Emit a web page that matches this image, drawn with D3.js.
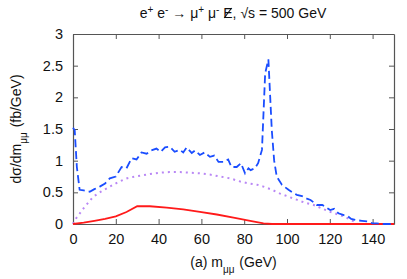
<!DOCTYPE html>
<html lang="en">
<head>
<meta charset="UTF-8">
<title>mumu</title>
<script src="https://cdn.jsdelivr.net/npm/d3@7"></script>
<style>
  body { margin: 0; background: #fff; }
  svg { display: block; font-family: "Liberation Sans", Arial, sans-serif; }
</style>
</head>
<body>
<svg id="chart" width="407" height="279"></svg>
<script>
// values (m in GeV, dsigma/dm in fb/GeV)
var blueM = [0, 0.8, 1.8, 3.1, 5, 7.8, 10, 12.5, 15, 17.2, 20, 22.7, 25, 27.4, 29.7, 32, 34.4, 36.5, 39, 41, 43, 45.3, 47.5, 50, 51.5, 53.1, 55.5, 57, 59.3, 61.5, 64, 66, 68, 70.3, 72.5, 74, 76.5, 78.5, 80.4, 82, 83, 85, 86.5, 88.3, 89.8, 91.3, 92.9, 94, 95.2, 97.6, 100.7, 102.5, 104.6, 107, 109.3, 111, 114, 116.5, 118, 120.2, 122, 124, 126.6, 128.5, 130, 132.7, 135, 137.5, 140, 142, 145, 150];
var blueY = [1.52, 1.48, 0.9, 0.54, 0.53, 0.51, 0.55, 0.59, 0.64, 0.72, 0.75, 0.9, 0.88, 1.04, 1.02, 1.13, 1.11, 1.16, 1.19, 1.14, 1.21, 1.22, 1.14, 1.17, 1.13, 1.21, 1.12, 1.16, 1.09, 1.13, 1.06, 1.08, 0.98, 0.98, 1.02, 0.9, 0.9, 0.96, 0.8, 0.88, 0.85, 0.88, 0.96, 1.17, 2.38, 2.6, 1.48, 1.0, 0.75, 0.62, 0.54, 0.5, 0.46, 0.44, 0.4, 0.38, 0.3, 0.3, 0.27, 0.22, 0.24, 0.17, 0.14, 0.12, 0.08, 0.06, 0.05, 0.04, 0.01, 0.01, 0, 0];

var purpleM = [0, 0.8, 5, 9.4, 13, 17.2, 21, 25, 29, 32.8, 36, 40.6, 45, 50, 55, 59.3, 64, 68.7, 73.5, 78.2, 82, 86, 89, 93, 96.8, 100, 104.8, 108, 112.5, 116, 120.4, 123, 126.6, 129, 131.3, 133, 150];
var purpleY = [0.0, 0.06, 0.25, 0.43, 0.51, 0.59, 0.66, 0.72, 0.75, 0.77, 0.79, 0.81, 0.82, 0.82, 0.81, 0.8, 0.78, 0.75, 0.72, 0.67, 0.64, 0.62, 0.59, 0.54, 0.48, 0.44, 0.38, 0.34, 0.3, 0.25, 0.19, 0.16, 0.12, 0.08, 0.04, 0.0, 0.0];

var redM = [0, 5, 10, 15, 20, 25, 30, 35.9, 43.8, 51.5, 59.3, 67.2, 75, 82.8, 89, 93, 150];
var redY = [0, 0.02, 0.05, 0.08, 0.12, 0.19, 0.28, 0.28, 0.26, 0.23, 0.19, 0.15, 0.1, 0.05, 0.01, 0, 0];

var xTicks = [0, 20, 40, 60, 80, 100, 120, 140];
var yTicks = [0, 0.5, 1, 1.5, 2, 2.5, 3];

var margin = { top: 34, bottom: 55, left: 73, right: 13 };
var width = 407, height = 279;
var chartW = width - margin.left - margin.right;
var chartH = height - margin.top - margin.bottom;

var svg = d3.select("#chart");

var xScale = d3.scaleLinear().domain([0, 150]).range([0, chartW]);
var yScale = d3.scaleLinear().domain([0, 3]).range([chartH, 0]);

var plot = svg.append("g")
  .attr("transform", "translate(" + margin.left + "," + margin.top + ")");

/* axes, ticks inside and mirrored */
var axisColor = "#555";
plot.append("g").attr("class", "xb")
  .attr("transform", "translate(0," + chartH + ")")
  .call(d3.axisBottom(xScale).tickValues(xTicks).tickSizeInner(-5).tickSizeOuter(0).tickPadding(10).tickFormat(d3.format("d")));
plot.append("g").attr("class", "xt")
  .call(d3.axisTop(xScale).tickValues(xTicks).tickSizeInner(-5).tickSizeOuter(0).tickFormat(""));
plot.append("g").attr("class", "yl")
  .call(d3.axisLeft(yScale).tickValues(yTicks).tickSizeInner(-5).tickSizeOuter(0).tickPadding(10).tickFormat(function(d) { return d; }));
plot.append("g").attr("class", "yr")
  .attr("transform", "translate(" + chartW + ",0)")
  .call(d3.axisRight(yScale).tickValues(yTicks).tickSizeInner(-5).tickSizeOuter(0).tickFormat(""));

plot.selectAll(".domain").attr("stroke", axisColor).attr("stroke-width", 1.2);
plot.selectAll(".tick line").attr("stroke", axisColor);
plot.selectAll(".tick text").attr("fill", "#111").style("font-size", "14.5px");

/* curves */
function zip(xs, ys) { return xs.map(function(x, i) { return [x, ys[i]]; }); }
var line = d3.line()
  .x(function(d) { return xScale(d[0]); })
  .y(function(d) { return yScale(d[1]); });

plot.append("path").datum(zip(purpleM, purpleY))
  .attr("d", line).attr("fill", "none")
  .attr("stroke", "#b987f5").attr("stroke-width", 2)
  .attr("stroke-dasharray", "2,4");

plot.append("path").datum(zip(redM, redY))
  .attr("d", line).attr("fill", "none")
  .attr("stroke", "#ff1a1a").attr("stroke-width", 1.8);

plot.append("path").datum(zip(blueM, blueY))
  .attr("d", line).attr("fill", "none")
  .attr("stroke", "#1a4dff").attr("stroke-width", 1.8)
  .attr("stroke-dasharray", "8,4");

/* texts */
var title = svg.append("text")
  .attr("x", 233).attr("y", 18)
  .attr("text-anchor", "middle")
  .style("font-size", "14px").attr("fill", "#111");
title.append("tspan").text("e");
title.append("tspan").attr("baseline-shift", "super").style("font-size", "10px").text("+");
title.append("tspan").text(" e");
title.append("tspan").attr("baseline-shift", "super").style("font-size", "10px").text("-");
title.append("tspan").text(" \u2192 \u03bc");
title.append("tspan").attr("baseline-shift", "super").style("font-size", "10px").text("+");
title.append("tspan").text(" \u03bc");
title.append("tspan").attr("baseline-shift", "super").style("font-size", "10px").text("-");
title.append("tspan").text(" E, \u221as = 500 GeV");

// slash across the missing-energy E
var full = title.node().textContent;
var ext = title.node().getExtentOfChar(full.indexOf("E"));
svg.append("line")
  .attr("x1", ext.x + 1).attr("y1", ext.y + ext.height - 3)
  .attr("x2", ext.x + ext.width - 1).attr("y2", ext.y + 3)
  .attr("stroke", "#111").attr("stroke-width", 1.1);

var xl = svg.append("text")
  .attr("x", margin.left + chartW / 2).attr("y", 267)
  .attr("text-anchor", "middle")
  .style("font-size", "14px").attr("fill", "#111");
xl.append("tspan").text("(a) m");
xl.append("tspan").attr("baseline-shift", "sub").style("font-size", "10px").text("\u03bc\u03bc");
xl.append("tspan").attr("dx", 1).text(" (GeV)");

var yl = svg.append("text")
  .attr("transform", "translate(21," + (margin.top + chartH / 2) + ") rotate(-90)")
  .attr("text-anchor", "middle")
  .style("font-size", "14px").attr("fill", "#111");
yl.append("tspan").text("d\u03c3/dm");
yl.append("tspan").attr("baseline-shift", "sub").style("font-size", "10px").text("\u03bc\u03bc");
yl.append("tspan").attr("dx", 1).text(" (fb/GeV)");
</script>
</body>
</html>
